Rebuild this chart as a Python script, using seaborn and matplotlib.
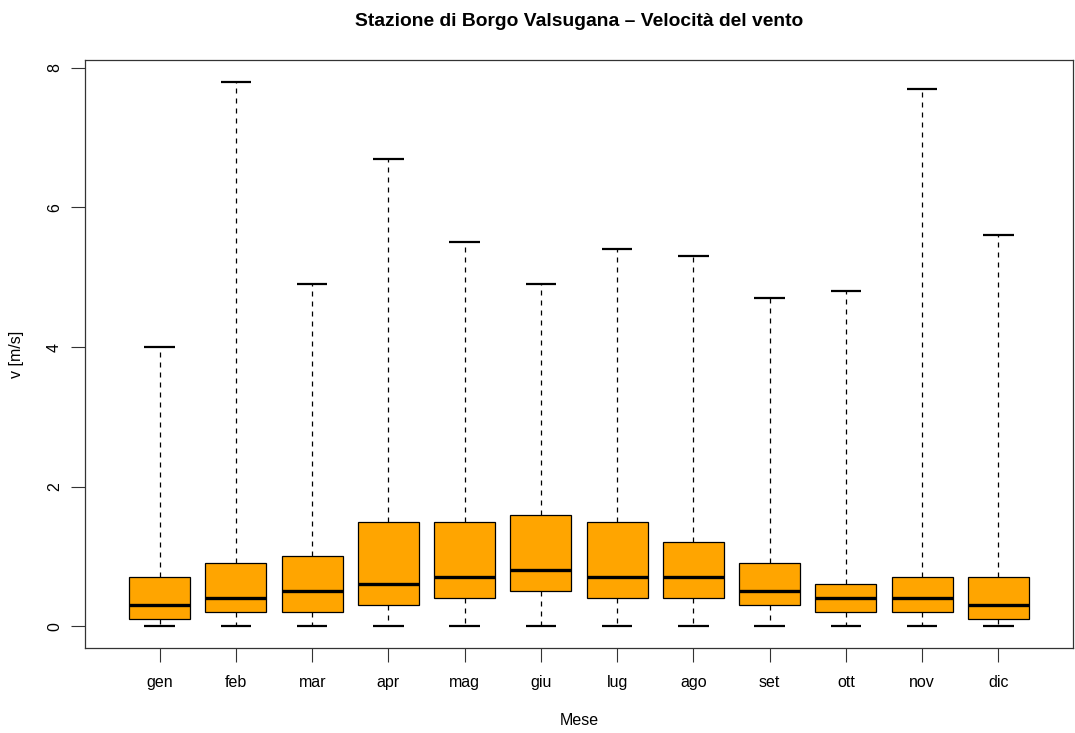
import matplotlib
matplotlib.use("Agg")
import matplotlib.pyplot as plt
import seaborn as sns
import pandas as pd

months = ["gen", "feb", "mar", "apr", "mag", "giu", "lug", "ago", "set", "ott", "nov", "dic"]
v_min = [0.0, 0.0, 0.0, 0.0, 0.0, 0.0, 0.0, 0.0, 0.0, 0.0, 0.0, 0.0]
v_q1 = [0.1, 0.2, 0.2, 0.3, 0.4, 0.5, 0.4, 0.4, 0.3, 0.2, 0.2, 0.1]
v_med = [0.3, 0.4, 0.5, 0.6, 0.7, 0.8, 0.7, 0.7, 0.5, 0.4, 0.4, 0.3]
v_q3 = [0.7, 0.9, 1.0, 1.5, 1.5, 1.6, 1.5, 1.2, 0.9, 0.6, 0.7, 0.7]
v_max = [4.0, 7.8, 4.9, 6.7, 5.5, 4.9, 5.4, 5.3, 4.7, 4.8, 7.7, 5.6]
y_ticks = [0, 2, 4, 6, 8]

rows = []
for i, m in enumerate(months):
    for val in (v_min[i], v_q1[i], v_med[i], v_q3[i], v_max[i]):
        rows.append({"Mese": m, "v": val})
df = pd.DataFrame(rows)

plt.rcParams["font.family"] = ["Liberation Sans", "DejaVu Sans"]

W, H = 1075, 733
fig = plt.figure(figsize=(W / 100, H / 100), dpi=100)
ax = fig.add_axes([85 / W, 1 - 648 / H, (1073 - 85) / W, (648 - 60) / H])

sns.boxplot(
    data=df, x="Mese", y="v", order=months, ax=ax,
    whis=(0, 100), width=0.8, color="#FFA500", saturation=1,
    linecolor="black", linewidth=0.9, fliersize=0,
    capwidths=0.4,
    boxprops=dict(edgecolor="black", linewidth=0.9),
    medianprops=dict(color="black", linewidth=2.4, solid_capstyle="butt"),
    whiskerprops=dict(color="black", linewidth=0.9, linestyle=(0, (4, 4))),
    capprops=dict(color="black", linewidth=1.6, solid_capstyle="butt"),
)

fs = 11.5
ax.set_xlim(-0.98, 11.98)
ax.set_ylim(-0.312, 8.112)
ax.set_yticks(y_ticks)
ax.set_yticklabels([str(t) for t in y_ticks], rotation=90, va="center")
ax.set_xticks(range(len(months)))
ax.set_xticklabels(months)
ax.tick_params(axis="both", direction="out", length=10, width=0.8, labelsize=fs, color="#333333")
ax.tick_params(axis="x", pad=9.5)
ax.tick_params(axis="y", pad=6.5)
ax.set_xlabel("")
ax.set_ylabel("")
ax.grid(False)
for s in ax.spines.values():
    s.set_visible(True)
    s.set_color("#333333")
    s.set_linewidth(0.9)

fig.text(579 / W, 1 - 26 / H, "Stazione di Borgo Valsugana – Velocità del vento",
         ha="center", va="baseline", fontsize=13.9, fontweight="bold")
fig.text(579 / W, 1 - 725 / H, "Mese", ha="center", va="baseline", fontsize=fs)
fig.text(17 / W, 1 - 354 / H, "v [m/s]", ha="center", va="center", fontsize=fs, rotation=90)

fig.savefig("out.png", dpi=100)
